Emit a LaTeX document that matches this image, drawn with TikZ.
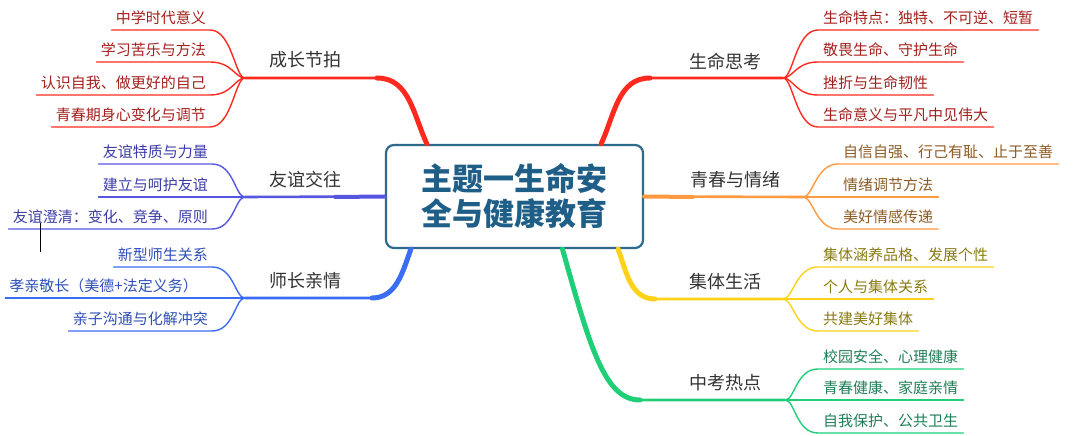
\documentclass[tikz,border=0pt]{standalone}
\usepackage{fontspec}
\setmainfont{Noto Sans CJK SC}
\usetikzlibrary{calc}

\definecolor{cRed}{HTML}{FF2A1F}
\definecolor{tRed}{HTML}{A3201C}
\definecolor{cIndigo}{HTML}{5656E0}
\definecolor{tIndigo}{HTML}{3C3CA8}
\definecolor{cBlue}{HTML}{3A6CF4}
\definecolor{tBlue}{HTML}{2E4FB8}
\definecolor{cOrange}{HTML}{FF9A40}
\definecolor{tOrange}{HTML}{8C5A24}
\definecolor{cYellow}{HTML}{FFD21A}
\definecolor{tYellow}{HTML}{8A7A12}
\definecolor{cGreen}{HTML}{1ECF78}
\definecolor{tGreen}{HTML}{1E7F56}
\definecolor{cBox}{HTML}{2E6A8E}
\definecolor{tBox}{HTML}{1F5E86}
\definecolor{tTopic}{HTML}{333333}

\begin{document}
\begin{tikzpicture}[
    x=1pt, y=1pt,
    hub/.style={draw=cBox, line width=2.2pt, fill=white, rounded corners=8pt, minimum width=257pt, minimum height=103pt, align=center, text=tBox, font=\fontsize{31}{35}\selectfont\bfseries},
    topic/.style={text=tTopic, font=\fontsize{18}{20}\selectfont, inner sep=0pt},
    leafL/.style={anchor=south east, text=#1, font=\fontsize{15}{17}\selectfont, text height=11pt, text depth=3pt, inner xsep=4pt, inner ysep=3pt},
    leafR/.style={anchor=south west, text=#1, font=\fontsize{15}{17}\selectfont, text height=11pt, text depth=3pt, inner xsep=5pt, inner ysep=3pt},
    stem/.style={draw=#1, line width=2.6pt, line cap=round},
    trunk/.style={draw=#1, line width=5pt, line cap=round},
    twig/.style={draw=#1, line width=1.4pt, line cap=round}
]
\useasboundingbox (0,0) rectangle (1080,436);

% centre
\node[hub] (box) at (514.5,239.5) {主题一生命安\\全与健康教育};

% left side: topics
\node[topic] (grow) at (305,376) {成长节拍};
\node[topic] (friend) at (305,256) {友谊交往};
\node[topic] (elder) at (305,155) {师长亲情};
\coordinate (growJ) at (377,358);
\coordinate (growF) at (245,358);
\coordinate (friendJ) at (335,239);
\coordinate (friendF) at (245,239);
\coordinate (elderJ) at (372,138);
\coordinate (elderF) at (245,138);

% right side: topics
\node[topic] (life) at (725,374) {生命思考};
\node[topic] (youth) at (735,256) {青春与情绪};
\node[topic] (group) at (725,154) {集体生活};
\node[topic] (exam) at (725,53) {中考热点};
\coordinate (lifeJ) at (650,358);
\coordinate (lifeF) at (783,358);
\coordinate (youthJ) at (693,239);
\coordinate (youthF) at (803,239);
\coordinate (groupJ) at (655,137);
\coordinate (groupF) at (783,137);
\coordinate (examJ) at (640,36);
\coordinate (examF) at (785,36);

% main branches
\draw[stem=cRed] ([xshift=42pt]box.north west) to[out=115,in=0] (growJ) -- (growF);
\draw[trunk=cRed] ([xshift=42pt]box.north west) to[out=115,in=0] (growJ);
\draw[stem=cIndigo] (box.west) -- (friendF);
\draw[trunk=cIndigo, line width=4pt] (box.west) -- (friendJ);
\draw[stem=cBlue] ([xshift=26pt]box.south west) to[out=-110,in=0] (elderJ) -- (elderF);
\draw[trunk=cBlue] ([xshift=26pt]box.south west) to[out=-110,in=0] (elderJ);
\draw[stem=cRed] ([xshift=-43pt]box.north east) to[out=65,in=180] (lifeJ) -- (lifeF);
\draw[trunk=cRed] ([xshift=-43pt]box.north east) to[out=65,in=180] (lifeJ);
\draw[stem=cOrange] (box.east) -- (youthF);
\draw[trunk=cOrange, line width=4pt] (box.east) -- (youthJ);
\draw[stem=cYellow] ([xshift=-26pt]box.south east) to[out=-70,in=180] (groupJ) -- (groupF);
\draw[trunk=cYellow] ([xshift=-26pt]box.south east) to[out=-70,in=180] (groupJ);
\draw[stem=cGreen] ([xshift=48pt]box.south) .. controls +(28,-100) and +(-35,0) .. (examJ) -- (examF);
\draw[trunk=cGreen] ([xshift=48pt]box.south) .. controls +(28,-100) and +(-35,0) .. (examJ);

% left leaves
\node[leafL=tRed] (grow1) at (210,406) {中学时代意义};
\node[leafL=tRed] (grow2) at (210,374) {学习苦乐与方法};
\node[leafL=tRed] (grow3) at (210,341) {认识自我、做更好的自己};
\node[leafL=tRed] (grow4) at (210,309) {青春期身心变化与调节};
\foreach \n in {grow1,grow2,grow3,grow4}
  \draw[twig=cRed] (\n.south west) -- (\n.south east) .. controls +(22,0) and +(-10,0) .. (growF);

\node[leafL=tIndigo] (friend1) at (212,272) {友谊特质与力量};
\node[leafL=tIndigo] (friend2) at (212,239) {建立与呵护友谊};
\node[leafL=tIndigo] (friend3) at (212,207) {友谊澄清：变化、竞争、原则};
\foreach \n in {friend1,friend2,friend3}
  \draw[twig=cIndigo] (\n.south west) -- (\n.south east) .. controls +(22,0) and +(-10,0) .. (friendF);

\node[leafL=tBlue] (elder1) at (212,169) {新型师生关系};
\node[leafL=tBlue] (elder2) at (202,138) {孝亲敬长（美德+法定义务）};
\node[leafL=tBlue] (elder3) at (212,105) {亲子沟通与化解冲突};
\foreach \n in {elder1,elder2,elder3}
  \draw[twig=cBlue] (\n.south west) -- (\n.south east) .. controls +(22,0) and +(-10,0) .. (elderF);

% right leaves
\node[leafR=tRed] (life1) at (818,406) {生命特点：独特、不可逆、短暂};
\node[leafR=tRed] (life2) at (818,374) {敬畏生命、守护生命};
\node[leafR=tRed] (life3) at (818,341) {挫折与生命韧性};
\node[leafR=tRed] (life4) at (818,309) {生命意义与平凡中见伟大};
\foreach \n in {life1,life2,life3,life4}
  \draw[twig=cRed] (\n.south east) -- (\n.south west) .. controls +(-22,0) and +(10,0) .. (lifeF);

\node[leafR=tOrange] (youth1) at (838,272) {自信自强、行己有耻、止于至善};
\node[leafR=tOrange] (youth2) at (838,239) {情绪调节方法};
\node[leafR=tOrange] (youth3) at (838,207) {美好情感传递};
\foreach \n in {youth1,youth2,youth3}
  \draw[twig=cOrange] (\n.south east) -- (\n.south west) .. controls +(-22,0) and +(10,0) .. (youthF);

\node[leafR=tYellow] (group1) at (818,169) {集体涵养品格、发展个性};
\node[leafR=tYellow] (group2) at (818,137) {个人与集体关系};
\node[leafR=tYellow] (group3) at (818,105) {共建美好集体};
\foreach \n in {group1,group2,group3}
  \draw[twig=cYellow] (\n.south east) -- (\n.south west) .. controls +(-22,0) and +(10,0) .. (groupF);

\node[leafR=tGreen] (exam1) at (818,67) {校园安全、心理健康};
\node[leafR=tGreen] (exam2) at (818,36) {青春健康、家庭亲情};
\node[leafR=tGreen] (exam3) at (818,3) {自我保护、公共卫生};
\foreach \n in {exam1,exam2,exam3}
  \draw[twig=cGreen] (\n.south east) -- (\n.south west) .. controls +(-22,0) and +(10,0) .. (examF);

% text cursor
\draw[line width=0.9pt] (40,213) -- (40,184);
\end{tikzpicture}
\end{document}
